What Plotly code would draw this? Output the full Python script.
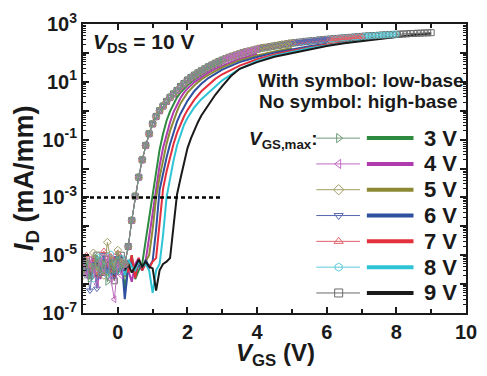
import numpy as np
import plotly.graph_objects as go

# ---------------- data ----------------
vgs_max_list = [3, 4, 5, 6, 7, 8, 9]
legend_labels = ["3 V", "4 V", "5 V", "6 V", "7 V", "8 V", "9 V"]

# low-base ("with symbol") curves: noise floor, V = -1.0 ... 0.1 (step 0.1)
sym_noise_v = [-1.0, -0.9, -0.8, -0.7, -0.6, -0.5, -0.4, -0.3, -0.2, -0.1, 0.0, 0.1]
sym3_noise = [3e-6, 6e-6, 1.5e-6, 4e-6, 8e-6, 2.5e-6, 5e-6, 1.2e-6, 6e-6, 3e-6, 9e-6, 4e-6]
sym4_noise = [5e-6, 2e-6, 7e-6, 3e-6, 1e-6, 6e-6, 2.5e-6, 8e-6, 1.5e-6, 3e-7, 5e-6, 2e-6]
sym5_noise = [2e-6, 8e-6, 4e-6, 1.2e-5, 3e-6, 6e-6, 2e-6, 2.8e-5, 7e-6, 4e-6, 1.5e-5, 5e-6]
sym6_noise = [9e-6, 3e-6, 6e-7, 5e-6, 7e-7, 4e-6, 1e-5, 3e-6, 6e-6, 2e-6, 8e-6, 3e-6]
sym7_noise = [4e-6, 1e-5, 3e-6, 7e-6, 2e-6, 5e-6, 1.4e-5, 4e-6, 9e-6, 3e-6, 1.2e-5, 6e-6]
sym8_noise = [6e-6, 2e-6, 5e-6, 1.5e-6, 9e-6, 3e-6, 6e-6, 2e-6, 1.1e-5, 5e-6, 3e-6, 8e-6]
sym9_noise = [3e-6, 7e-6, 2e-6, 5e-6, 1e-5, 2.5e-6, 4e-6, 7e-6, 3e-6, 1.3e-6, 6e-6, 1e-5]

# low-base curves above the noise floor (all overlap), V = 0.2 ... 9.0 step 0.1
sym_rise_v = np.round(np.arange(0.2, 9.0001, 0.1), 1)
sym_rise_id = [
    5e-6, 2e-5, 1.6e-4, 1.1e-3, 5e-3, 2e-2, 6.3e-2, 0.16, 0.35, 0.63,
    1.0, 1.45, 2.1, 2.9, 3.8, 5.0, 6.9, 8.7, 11.5,
    14.1, 17, 20.4, 24, 28.2, 33.1, 38, 43.7, 50.1, 56.2,
    63.1, 70.8, 77.6, 85.1, 93.3, 102, 110, 117, 126, 135,
    145, 151, 158, 166, 174, 182, 191, 200, 209, 219,
    224, 234, 240, 251, 257, 263, 269, 282, 288, 295,
    302, 309, 316, 324, 331, 339, 347, 355, 363, 372,
    380, 389, 393, 398, 407, 417, 420, 427, 437, 440,
    447, 452, 457, 468, 470, 479, 482, 490, 495, 501,
]

# high-base ("no symbol") curves: noise floor on the 0.1 V sweep from -1.0 V
hb3_noise = [4e-6, 2.5e-6, 6e-6, 3e-6, 1.8e-6, 5e-6, 3.5e-6, 2e-6, 7e-6, 3e-6, 2.2e-6, 8e-6, 7e-7, 4e-6, 1e-5, 1.5e-6, 3e-6]
hb4_noise = [2e-6, 5e-6, 3e-6, 8e-6, 4e-6, 1.5e-6, 6e-6, 3e-6, 2e-6, 9e-6, 4e-6, 2.5e-6, 6e-6, 3e-6, 1.2e-6, 5e-6, 8e-6, 3e-6]
hb5_noise = [6e-6, 3e-6, 1.5e-6, 5e-6, 9e-6, 2.5e-6, 4e-6, 7e-6, 2e-6, 5e-6, 3e-6, 6e-6, 1.8e-6, 4e-6, 7e-6, 2.5e-6, 5e-6, 3.5e-6, 6e-6]
hb6_noise = [3e-6, 7e-6, 2e-6, 5e-6, 1e-6, 4e-6, 8e-6, 2.5e-6, 5e-6, 3e-6, 6e-6, 1e-5, 3e-7, 4e-6, 6e-6, 2e-6, 5e-6, 3e-6, 7e-6, 4e-6]
hb7_noise = [5e-6, 2e-6, 6e-6, 3e-6, 8e-6, 4e-6, 2e-6, 6e-6, 3.5e-6, 1.5e-6, 5e-6, 3e-6, 7e-6, 2.5e-6, 1e-5, 1.6e-6, 8e-6, 3e-6, 5e-6, 3.5e-6, 6e-6]
hb8_noise = [4e-6, 7e-6, 2e-6, 5e-6, 3e-6, 9e-6, 2.5e-6, 5e-6, 1.5e-6, 6e-6, 3e-6, 5e-6, 2e-6, 7e-6, 4e-6, 3e-6, 6e-6, 4e-6, 5e-6, 3e-6, 5e-7, 3e-6]
hb9_noise = [3e-6, 6e-6, 2e-6, 4e-6, 7e-6, 2.5e-6, 5e-6, 3e-6, 8e-6, 2e-6, 4e-6, 6e-6, 3e-6, 5e-6, 2.5e-6, 4e-6, 7e-6, 4e-6, 6e-6, 4e-6, 3.5e-6, 6e-7, 3e-6, 5e-6, 6e-6, 8e-6]

# high-base curves: turn-on and on-state
hb3_rise_v = [0.7, 0.8, 0.9, 1.0, 1.1, 1.2, 1.3, 1.4, 1.5, 1.6, 1.7, 1.8, 1.9, 2.0, 2.2, 2.4, 2.6, 2.8, 3.0]
hb3_rise_id = [5e-6, 3.2e-5, 2e-4, 1.4e-3, 7.9e-3, 4.5e-2, 0.16, 0.45, 0.95, 1.78, 2.9, 4.2, 5.8, 7.6, 12, 17.8, 25.1, 33.9, 43.7]
hb4_rise_v = [0.8, 0.9, 1.0, 1.1, 1.2, 1.3, 1.4, 1.5, 1.6, 1.7, 1.8, 1.9, 2.0, 2.2, 2.4, 2.6, 2.8, 3.0, 3.25, 3.5, 3.75, 4.0]
hb4_rise_id = [6.3e-6, 4e-5, 3.5e-4, 2.2e-3, 1.26e-2, 5.2e-2, 0.16, 0.4, 0.89, 1.66, 2.75, 4.2, 5.8, 9.8, 14.8, 20.9, 28.2, 36.3, 47.9, 61.7, 77.6, 93.3]
hb5_rise_v = [0.9, 1.0, 1.1, 1.2, 1.3, 1.4, 1.5, 1.6, 1.7, 1.8, 1.9, 2.0, 2.2, 2.4, 2.6, 2.8, 3.0, 3.5, 4.0, 4.5, 5.0]
hb5_rise_id = [1e-5, 7.9e-5, 1e-3, 5e-3, 2e-2, 7.1e-2, 0.2, 0.48, 0.95, 1.78, 2.8, 4.2, 7.6, 12, 17.4, 24, 31.6, 55, 81.3, 112, 148]
hb6_rise_v = [1.0, 1.1, 1.2, 1.3, 1.4, 1.5, 1.6, 1.7, 1.8, 1.9, 2.0, 2.2, 2.4, 2.6, 2.8, 3.0, 3.5, 4.0, 4.5, 5.0, 5.5, 6.0]
hb6_rise_id = [6.3e-6, 7.9e-5, 1.8e-3, 7.1e-3, 2.4e-2, 7.1e-2, 0.19, 0.42, 0.79, 1.38, 2.2, 4.8, 8.5, 13.5, 19.5, 26.3, 47.9, 72.4, 102, 135, 170, 209]
hb7_rise_v = [1.1, 1.2, 1.3, 1.4, 1.5, 1.6, 1.7, 1.8, 1.9, 2.0, 2.2, 2.4, 2.6, 2.8, 3.0, 3.5, 4.0, 4.5, 5.0, 5.5, 6.0, 6.5, 7.0]
hb7_rise_id = [7.9e-6, 1e-4, 2e-3, 7.9e-3, 2.5e-2, 7.1e-2, 0.17, 0.35, 0.63, 1.05, 2.4, 4.7, 7.9, 12.6, 18.2, 36.3, 60.3, 89.1, 120, 155, 195, 234, 275]
hb8_rise_v = [1.2, 1.3, 1.4, 1.5, 1.6, 1.7, 1.8, 1.9, 2.0, 2.2, 2.4, 2.6, 2.8, 3.0, 3.5, 4.0, 4.5, 5.0, 5.5, 6.0, 6.5, 7.0, 7.5, 8.0]
hb8_rise_id = [5e-6, 5e-5, 1e-3, 5e-3, 1.9e-2, 6.3e-2, 0.15, 0.32, 0.56, 1.32, 2.5, 4.2, 7.1, 11.2, 28.2, 52.5, 79.4, 110, 145, 182, 224, 269, 316, 363]
hb9_rise_v = [1.6, 1.65, 1.7, 1.8, 1.9, 2.0, 2.1, 2.2, 2.3, 2.4, 2.6, 2.8, 3.0, 3.25, 3.5, 4.0, 4.5, 5.0, 5.5, 6.0, 6.5, 7.0, 7.5, 8.0, 8.5, 9.0]
hb9_rise_id = [1e-4, 4e-4, 1.26e-3, 4.5e-3, 1.6e-2, 5e-2, 0.11, 0.22, 0.4, 0.68, 1.58, 3.55, 7.1, 15.8, 28.2, 47.9, 74, 100, 132, 174, 214, 257, 309, 355, 417, 468]

criterion_id = 1e-3
criterion_vgs = [-1.0, 3.0]

x_tick_vals = [0, 2, 4, 6, 8, 10]
y_tick_vals = [1e-7, 1e-6, 1e-5, 1e-4, 1e-3, 1e-2, 1e-1, 1e0, 1e1, 1e2, 1e3]
y_tick_text = ["10<sup>-7</sup>", "", "10<sup>-5</sup>", "", "10<sup>-3</sup>", "",
               "10<sup>-1</sup>", "", "10<sup>1</sup>", "", "10<sup>3</sup>"]

# ---------------- styles ----------------
thick_colors = ["#2d8a3e", "#b03ab0", "#8c8a35", "#2f4f9f", "#e3303c", "#2ec4d6", "#1a1a1a"]
sym_colors = ["#6c9a78", "#c06ac0", "#a09d62", "#5868b0", "#e0606a", "#5ccbd8", "#6a6a6a"]
sym_markers = ["triangle-right-open", "triangle-left-open", "diamond-open", "triangle-down-open",
               "triangle-up-open", "hexagon-open", "square-open"]
FONT = "Liberation Sans, Arial, sans-serif"

sym_noise = [sym3_noise, sym4_noise, sym5_noise, sym6_noise, sym7_noise, sym8_noise, sym9_noise]
hb_noise = [hb3_noise, hb4_noise, hb5_noise, hb6_noise, hb7_noise, hb8_noise, hb9_noise]
hb_rise_v = [hb3_rise_v, hb4_rise_v, hb5_rise_v, hb6_rise_v, hb7_rise_v, hb8_rise_v, hb9_rise_v]
hb_rise_id = [hb3_rise_id, hb4_rise_id, hb5_rise_id, hb6_rise_id, hb7_rise_id, hb8_rise_id, hb9_rise_id]

# plot-area geometry in pixels (layout only)
W, H = 487, 376
L, R, T, B = 83, 477, 23, 313


def pxx(p):
    return (p - L) / (R - L)


def pxy(p):
    return (B - p) / (B - T)


fig = go.Figure()

# high-base curves (no symbol)
for i, vmax in enumerate(vgs_max_list):
    n = len(hb_noise[i])
    v = list(np.round(-1.0 + 0.1 * np.arange(n), 1)) + list(hb_rise_v[i])
    y = list(hb_noise[i]) + list(hb_rise_id[i])
    fig.add_trace(go.Scatter(x=v, y=y, mode="lines",
                             line=dict(color=thick_colors[i], width=2),
                             hoverinfo="skip"))

# low-base curves (with symbol), drawn so that the shorter sweeps lie on top
for i in reversed(range(len(vgs_max_list))):
    vmax = vgs_max_list[i]
    mask = sym_rise_v <= vmax + 1e-9
    v = list(sym_noise_v) + list(sym_rise_v[mask])
    y = list(sym_noise[i]) + list(np.array(sym_rise_id)[mask])
    fig.add_trace(go.Scatter(x=v, y=y, mode="lines+markers",
                             line=dict(color=sym_colors[i], width=1),
                             marker=dict(symbol=sym_markers[i], size=6,
                                         color=sym_colors[i],
                                         line=dict(color=sym_colors[i], width=1)),
                             hoverinfo="skip"))

# 1e-3 criterion line
fig.add_trace(go.Scatter(x=criterion_vgs, y=[criterion_id, criterion_id], mode="lines",
                         line=dict(color="black", width=2.5, dash="4px,3px"),
                         hoverinfo="skip"))

# legend samples on a pixel-based overlay axis
row0, row_step = 137.5, 25.9
for i in range(len(vgs_max_list)):
    py = row0 + row_step * i
    fig.add_trace(go.Scatter(x=[323, 368], y=[py, py], mode="lines", xaxis="x2", yaxis="y2",
                             line=dict(color=sym_colors[i], width=1), hoverinfo="skip"))
    fig.add_trace(go.Scatter(x=[346], y=[py], mode="markers", xaxis="x2", yaxis="y2",
                             marker=dict(symbol=sym_markers[i], size=8, color=sym_colors[i],
                                         line=dict(color=sym_colors[i], width=1)),
                             hoverinfo="skip"))
    fig.add_trace(go.Scatter(x=[375, 423], y=[py, py], mode="lines", xaxis="x2", yaxis="y2",
                             line=dict(color=thick_colors[i], width=4), hoverinfo="skip"))

annotations = []
for i, lab in enumerate(legend_labels):
    py = row0 + row_step * i
    annotations.append(dict(x=pxx(432), y=pxy(py), xref="paper", yref="paper",
                            text=lab, showarrow=False, xanchor="left", yanchor="middle",
                            font=dict(family=FONT, size=22, color="#1a1a1a", weight="bold")))

annotations += [
    dict(x=pxx(91), y=pxy(42), xref="paper", yref="paper", showarrow=False,
         xanchor="left", yanchor="middle",
         text="<i>V</i><sub>DS</sub> = 10 V",
         font=dict(family=FONT, size=21, color="#1a1a1a", weight="bold")),
    dict(x=pxx(261), y=pxy(80), xref="paper", yref="paper", showarrow=False,
         xanchor="left", yanchor="middle", text="With symbol: low-base",
         font=dict(family=FONT, size=19, color="#1a1a1a", weight="bold")),
    dict(x=pxx(262), y=pxy(101), xref="paper", yref="paper", showarrow=False,
         xanchor="left", yanchor="middle", text="No symbol: high-base",
         font=dict(family=FONT, size=19, color="#1a1a1a", weight="bold")),
    dict(x=pxx(252), y=pxy(139), xref="paper", yref="paper", showarrow=False,
         xanchor="left", yanchor="middle", text="<i>V</i><sub>GS,max</sub>:",
         font=dict(family=FONT, size=19, color="#1a1a1a", weight="bold")),
    dict(x=pxx(281), y=pxy(355), xref="paper", yref="paper", showarrow=False,
         xanchor="center", yanchor="middle", text="<i>V</i><sub>GS</sub> (V)",
         font=dict(family=FONT, size=24, color="#1a1a1a", weight="bold")),
    dict(x=pxx(25), y=pxy(178), xref="paper", yref="paper", showarrow=False,
         xanchor="center", yanchor="middle", textangle=-90,
         text="<i>I</i><sub>D</sub> (mA/mm)",
         font=dict(family=FONT, size=27, color="#1a1a1a", weight="bold")),
]

minor_y = [k * 10.0 ** e for e in range(-7, 3) for k in range(2, 10)]

fig.update_layout(
    width=W, height=H,
    margin=dict(l=L, r=W - R, t=T, b=H - B),
    paper_bgcolor="white", plot_bgcolor="white",
    showlegend=False,
    font=dict(family=FONT, color="#1a1a1a"),
    annotations=annotations,
    xaxis=dict(range=[-1, 10], tickmode="array", tickvals=x_tick_vals,
               ticks="inside", ticklen=6, tickwidth=2, tickcolor="#1a1a1a",
               showline=True, linewidth=2, linecolor="#1a1a1a", mirror="allticks",
               showgrid=False, zeroline=False,
               minor=dict(tickvals=[1, 3, 5, 7, 9], ticks="inside", ticklen=4,
                          tickwidth=1.5, tickcolor="#1a1a1a", showgrid=False),
               tickfont=dict(family=FONT, size=20, color="#1a1a1a", weight="bold")),
    yaxis=dict(type="log", range=[-7, 3], tickmode="array", tickvals=y_tick_vals,
               ticktext=y_tick_text,
               ticks="inside", ticklen=6, tickwidth=2, tickcolor="#1a1a1a",
               showline=True, linewidth=2, linecolor="#1a1a1a", mirror="allticks",
               showgrid=False, zeroline=False,
               minor=dict(tickvals=minor_y, ticks="inside", ticklen=3,
                          tickwidth=1, tickcolor="#1a1a1a", showgrid=False),
               tickfont=dict(family=FONT, size=20, color="#1a1a1a", weight="bold")),
    xaxis2=dict(overlaying="x", range=[L, R], visible=False, fixedrange=True),
    yaxis2=dict(overlaying="y", range=[B, T], visible=False, fixedrange=True),
)

fig.write_html("out.html")
